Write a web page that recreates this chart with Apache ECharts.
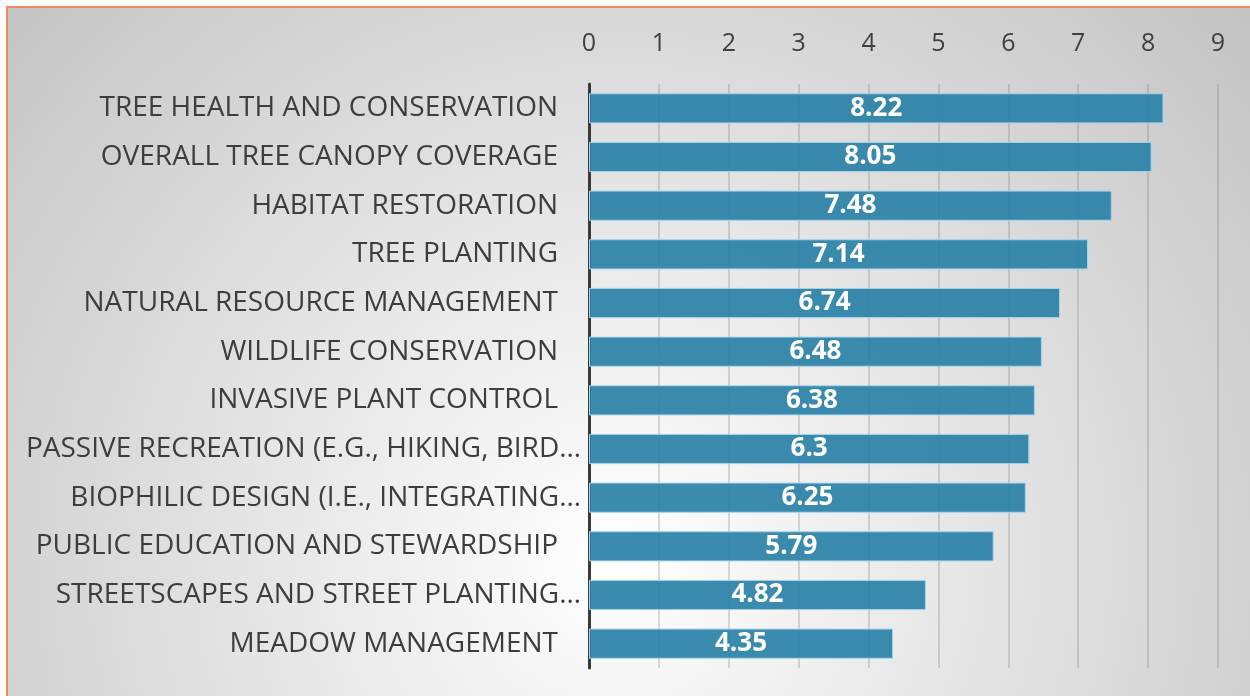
<!DOCTYPE html>
<html>
<head>
<meta charset="utf-8">
<script src="https://cdn.jsdelivr.net/npm/echarts@6/dist/echarts.min.js"></script>
<style>
    html, body { margin: 0; padding: 0; background: #ffffff; }
    #frame {
        position: absolute; left: 6px; top: 6px; width: 1244px; height: 690px;
        box-sizing: border-box;
        border-left: 2px solid #f5885c; border-top: 2px solid #f5885c;
        background: radial-gradient(circle at 49% 80%, #ffffff 0px, #c3c3c3 840px);
    }
    #main { width: 1242px; height: 688px; }
</style>
</head>
<body>
<div id="frame"><div id="main"></div></div>
<script>
'use strict';
var categories = [
    'TREE HEALTH AND CONSERVATION',
    'OVERALL TREE CANOPY COVERAGE',
    'HABITAT RESTORATION',
    'TREE PLANTING',
    'NATURAL RESOURCE MANAGEMENT',
    'WILDLIFE CONSERVATION',
    'INVASIVE PLANT CONTROL',
    'PASSIVE RECREATION (E.G., HIKING, BIRD…',
    'BIOPHILIC DESIGN (I.E., INTEGRATING…',
    'PUBLIC EDUCATION AND STEWARDSHIP',
    'STREETSCAPES AND STREET PLANTING…',
    'MEADOW MANAGEMENT'
];
var scores = [8.22, 8.05, 7.48, 7.14, 6.74, 6.48, 6.38, 6.3, 6.25, 5.79, 4.82, 4.35];
var tickLabels = ['0', '1', '2', '3', '4', '5', '6', '7', '8', '9'];

var chart = echarts.init(document.getElementById('main'));

var option = {
    backgroundColor: 'transparent',
    animation: false,
    grid: {
        left: 581,
        right: 32,
        top: 76,
        bottom: 28
    },
    xAxis: {
        type: 'value',
        position: 'top',
        min: 0,
        max: 9,
        interval: 1,
        axisLine: { show: false },
        axisTick: { show: false },
        axisLabel: {
            margin: 28,
            fontFamily: 'Open Sans',
            fontSize: 25,
            color: '#404040',
            formatter: function(v) {
                return tickLabels[Math.round(v)];
            }
        },
        splitLine: {
            show: true,
            lineStyle: { color: 'rgba(110,110,110,0.32)', width: 1.5 }
        }
    },
    yAxis: {
        type: 'category',
        inverse: true,
        data: categories,
        axisLine: { show: true, lineStyle: { color: '#3a3a3a', width: 3 } },
        axisTick: { show: false },
        axisLabel: {
            margin: 8,
            fontFamily: 'Open Sans',
            fontSize: 28,
            color: '#3d3d3d',
            formatter: function(v) {
                return v.slice(-1) === '…' ? '{e|' + v + '}' : '{n|' + v + '}';
            },
            rich: {
                e: { fontFamily: 'Open Sans', fontSize: 28, color: '#3d3d3d' },
                n: { fontFamily: 'Open Sans', fontSize: 28, color: '#3d3d3d', padding: [0, 23, 0, 0] }
            }
        }
    },
    series: [{
        type: 'bar',
        data: scores,
        barCategoryGap: '38%',
        itemStyle: {
            color: 'rgba(42,129,168,0.92)',
            borderColor: '#a6d3ea',
            borderWidth: 1
        },
        label: {
            show: true,
            position: 'inside',
            color: '#ffffff',
            fontFamily: 'Open Sans',
            fontWeight: 'bold',
            fontSize: 26
        }
    }]
};
chart.setOption(option);
</script>
</body>
</html>
